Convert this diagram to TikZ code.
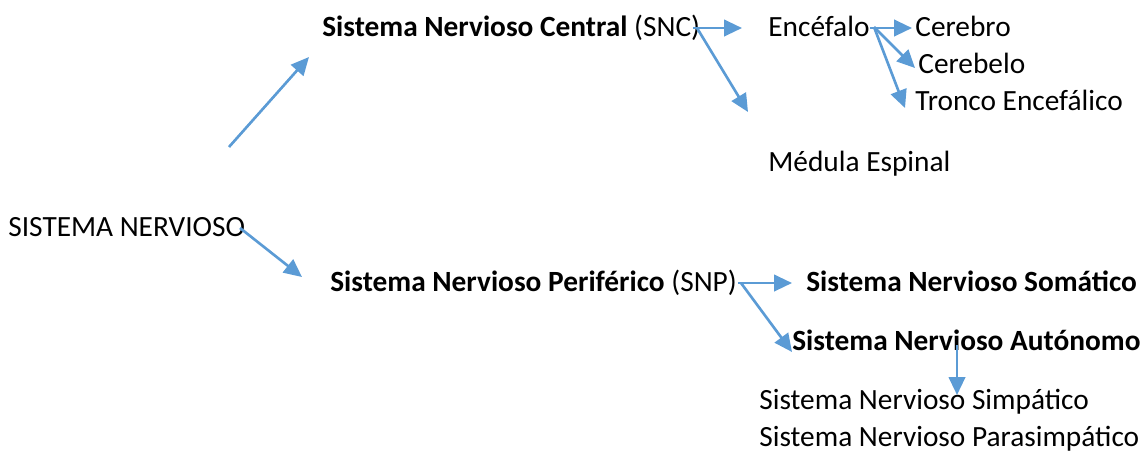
\documentclass[tikz,border=0pt]{standalone}
\usepackage{fontspec}
\setmainfont{Carlito}
\usetikzlibrary{arrows.meta}
\definecolor{arrowblue}{RGB}{91,155,213}
\tikzset{
  lbl/.style={anchor=base west, inner sep=0pt, font=\fontsize{16.7}{19}\selectfont},
  conn/.style={draw=arrowblue, line width=1.5pt, -{Triangle[length=0.36cm,width=0.33cm]}}
}
\begin{document}
\begin{tikzpicture}[x=0.02cm,y=-0.02cm]
\useasboundingbox (0,0) rectangle (1148,451);
\node[lbl] (sn) at (8,236) {SISTEMA NERVIOSO};
\node[lbl] (snc) at (322,36) {\textbf{Sistema Nervioso Central} (SNC)};
\node[lbl] (enc) at (768,36) {Encéfalo};
\node[lbl] (cbo) at (915,36) {Cerebro};
\node[lbl] (cbe) at (918,73) {Cerebelo};
\node[lbl] (tro) at (915,110) {Tronco Encefálico};
\node[lbl] (med) at (768,171) {Médula Espinal};
\node[lbl] (snp) at (330,291) {\textbf{Sistema Nervioso Periférico} (SNP)};
\node[lbl] (som) at (806,291) {\textbf{Sistema Nervioso Somático}};
\node[lbl] (aut) at (792,350) {\textbf{Sistema Nervioso Autónomo}};
\node[lbl] (sim) at (759,409) {Sistema Nervioso Simpático};
\node[lbl] (par) at (759,446) {Sistema Nervioso Parasimpático};
% connector endpoints
\coordinate (a1s) at (229,147);
\coordinate (a1e) at (309,57);
\coordinate (a2s) at (240,228);
\coordinate (a2e) at (302,277);
\coordinate (c1s) at (693,28);
\coordinate (c1e) at (742,28);
\coordinate (c2s) at (697,28);
\coordinate (c2e) at (748,112);
\coordinate (e1s) at (870,28);
\coordinate (e1e) at (912,28);
\coordinate (e2s) at (874,27);
\coordinate (e2e) at (915,68);
\coordinate (e3s) at (874,27);
\coordinate (e3e) at (905,108);
\coordinate (p1s) at (738,283);
\coordinate (p1e) at (792,283);
\coordinate (p2s) at (741,283);
\coordinate (p2e) at (792,352);
\coordinate (a3s) at (957,345);
\coordinate (a3e) at (957,395);
\draw[conn] (a1s) -- (a1e);
\draw[conn] (a2s) -- (a2e);
\draw[conn] (c1s) -- (c1e);
\draw[conn] (c2s) -- (c2e);
\draw[conn] (e1s) -- (e1e);
\draw[conn] (e2s) -- (e2e);
\draw[conn] (e3s) -- (e3e);
\draw[conn] (p1s) -- (p1e);
\draw[conn] (p2s) -- (p2e);
\draw[conn] (a3s) -- (a3e);
\end{tikzpicture}
\end{document}
